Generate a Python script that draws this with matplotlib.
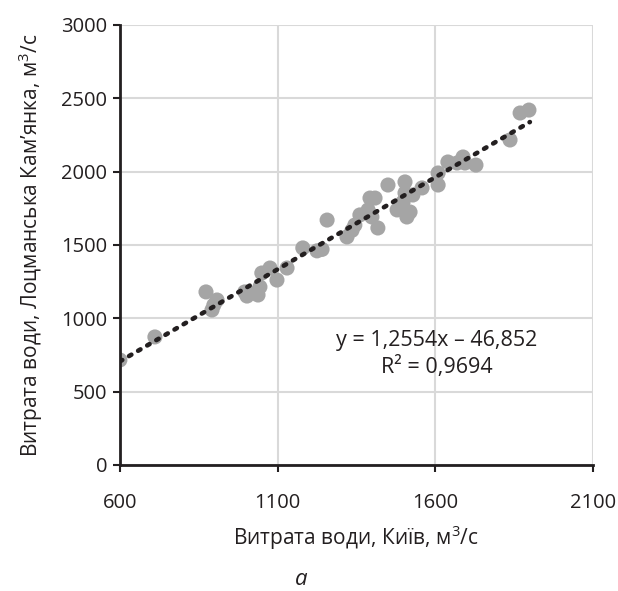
import numpy as np
import matplotlib
matplotlib.use("Agg")
import matplotlib.pyplot as plt

plt.rcParams['font.family'] = ['Open Sans', 'DejaVu Sans']
plt.rcParams['mathtext.fontset'] = 'custom'
plt.rcParams['mathtext.rm'] = 'Open Sans'
plt.rcParams['mathtext.it'] = 'Open Sans:italic'

# Витрата води, Київ (м3/с)
kyiv_flow = [600, 711, 873, 908, 892, 898, 996, 1003, 1028, 1038, 1044, 1050,
             1076, 1098, 1130, 1180, 1225, 1241, 1257, 1320, 1336, 1345, 1361,
             1387, 1393, 1409, 1399, 1418, 1450, 1479, 1498, 1504, 1504, 1510,
             1520, 1529, 1558, 1609, 1609, 1640, 1669, 1688, 1694, 1729, 1837,
             1869, 1897]
# Витрата води, Лоцманська Кам'янка (м3/с)
kamianka_flow = [716, 873, 1180, 1125, 1057, 1091, 1180, 1152, 1173, 1159, 1214,
                 1309, 1343, 1261, 1343, 1480, 1460, 1470, 1670, 1555, 1600,
                 1636, 1705, 1739, 1820, 1820, 1691, 1616, 1909, 1739, 1793,
                 1930, 1855, 1691, 1725, 1841, 1889, 1991, 1909, 2066, 2059,
                 2100, 2059, 2045, 2216, 2400, 2420]

slope, intercept = 1.2554, -46.852
fit_x = [600, 1900]

ink = '#231F20'

fig = plt.figure(figsize=(6.18, 5.91), dpi=100)
ax = fig.add_axes([0.194, 0.2132, 0.7655, 0.7445])

ax.scatter(kyiv_flow, kamianka_flow, s=118, color='#A5A5A5', edgecolors='none', zorder=3)

fx = np.array(fit_x)
ax.plot(fx, slope * fx + intercept, color=ink, lw=3.3,
        linestyle=(0, (0.6, 1.7)), dash_capstyle='round', zorder=4)

ax.set_xlim(600, 2100)
ax.set_ylim(0, 3000)
ax.set_xticks([600, 1100, 1600, 2100])
ax.set_yticks(np.arange(0, 3001, 500))
ax.grid(True, color='#D9D9D9', lw=1.5)
ax.set_axisbelow(True)

for side in ['top', 'right']:
    ax.spines[side].set_visible(False)
for side in ['left', 'bottom']:
    ax.spines[side].set_linewidth(2)
    ax.spines[side].set_color(ink)
    ax.spines[side].set_zorder(5)

ax.tick_params(axis='both', direction='out', length=5, width=1.5, color=ink,
               labelsize=14.5, labelcolor=ink)
ax.tick_params(axis='x', pad=15)
ax.tick_params(axis='y', pad=4)

ax.set_xlabel('Витрата води, Київ, м$^3$/с', fontsize=15, color=ink, labelpad=8)
ax.set_ylabel('Витрата води, Лоцманська Кам\u2019янка, м$^3$/с', fontsize=15,
              color=ink, labelpad=12)

ax.text(1605, 850, 'y = 1,2554x \u2013 46,852', ha='center', va='center',
        fontsize=15.5, color=ink)
ax.text(1605, 665, 'R\u00b2 = 0,9694', ha='center', va='center',
        fontsize=15.5, color=ink)

fig.text(0.487, 0.02, 'а', ha='center', va='center', fontsize=16,
         style='italic', color=ink)

fig.savefig('out.png', dpi=100)
